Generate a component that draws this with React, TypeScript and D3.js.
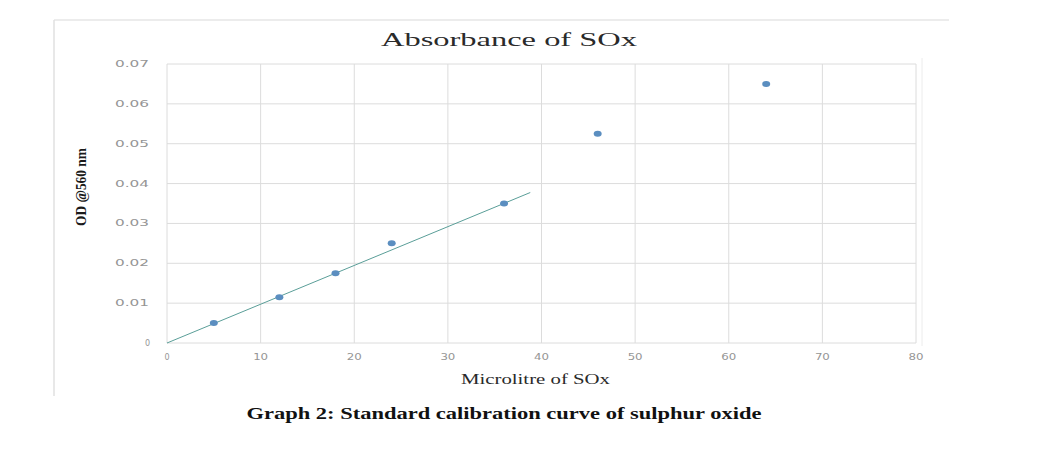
import React from "react";
import * as d3 from "d3";

const xVals = [5, 12, 18, 24, 36, 46, 64];
const yVals = [0.005, 0.0115, 0.0175, 0.025, 0.035, 0.0525, 0.065];
const xTicks = [0, 10, 20, 30, 40, 50, 60, 70, 80];
const yTicks = [0, 0.01, 0.02, 0.03, 0.04, 0.05, 0.06, 0.07];
const trendX = [0, 38.8];
const trendSlope = 0.000973;

const W = 1054;
const H = 452;

export default function App() {
  const x = d3.scaleLinear().domain([0, 80]).range([167, 916]);
  const y = d3.scaleLinear().domain([0, 0.07]).range([343, 64]);
  const line = d3
    .line<number>()
    .x((d) => x(d))
    .y((d) => y(d * trendSlope));
  const fmtY = (v: number) => (v === 0 ? "0" : v.toFixed(2));
  return (
    <svg
      width={W}
      height={H}
      style={{ position: "absolute", left: 0, top: 0, background: "#fff" }}
    >
      {/* outer chart frame */}
      <line x1={54} x2={949} y1={20} y2={20} stroke="#e6e6e6" strokeWidth={1.5} />
      <line x1={54} x2={54} y1={20} y2={396} stroke="#e0e0e0" strokeWidth={1.5} />
      <line x1={922} x2={922} y1={58} y2={346} stroke="#ececec" strokeWidth={1} />
      {/* grid */}
      {yTicks.map((t) => (
        <line key={"gy" + t} x1={x(0)} x2={x(80)} y1={y(t)} y2={y(t)} stroke="#dcdcdc" strokeWidth={1} />
      ))}
      {xTicks.map((t) => (
        <line key={"gx" + t} x1={x(t)} x2={x(t)} y1={y(0.07)} y2={y(0)} stroke="#dcdcdc" strokeWidth={1} />
      ))}
      {/* tick labels */}
      {yTicks.map((t) => {
        const s = fmtY(t);
        return (
          <text
            key={"ly" + t}
            x={s.length > 1 ? 115 : 150}
            y={y(t) + 3}
            textAnchor={s.length > 1 ? "start" : "end"}
            fontFamily="DejaVu Sans, sans-serif"
            fontSize={8}
            fill="#959595"
            {...(s.length > 1 ? { textLength: 34, lengthAdjust: "spacingAndGlyphs" } : {})}
          >
            {s}
          </text>
        );
      })}
      {xTicks.map((t) => {
        const s = String(t);
        return (
          <text
            key={"lx" + t}
            x={s.length > 1 ? x(t) - 7.5 : x(t)}
            y={360}
            textAnchor={s.length > 1 ? "start" : "middle"}
            fontFamily="DejaVu Sans, sans-serif"
            fontSize={8}
            fill="#959595"
            {...(s.length > 1 ? { textLength: 15, lengthAdjust: "spacingAndGlyphs" } : {})}
          >
            {s}
          </text>
        );
      })}
      {/* trendline */}
      <path d={line(trendX) || ""} fill="none" stroke="#5a9e98" strokeWidth={1} />
      {/* points */}
      {xVals.map((v, i) => (
        <ellipse key={"p" + i} cx={x(v)} cy={y(yVals[i])} rx={4} ry={3} fill="#5b8ec0" />
      ))}
      {/* titles */}
      <text
        x={381}
        y={46}
        fontFamily="Liberation Serif, serif"
        fontSize={19}
        fill="#2a2a2a"
        textLength={256}
        lengthAdjust="spacingAndGlyphs"
      >
        Absorbance of SOx
      </text>
      <text
        x={461}
        y={384}
        fontFamily="Liberation Serif, serif"
        fontSize={15}
        fill="#2a2a2a"
        textLength={149}
        lengthAdjust="spacingAndGlyphs"
      >
        Microlitre of SOx
      </text>
      <text
        transform="translate(86,226) rotate(-90)"
        fontFamily="Liberation Serif, serif"
        fontSize={14}
        fontWeight="bold"
        fill="#1a1a1a"
        textLength={78}
        lengthAdjust="spacingAndGlyphs"
      >
        OD @560 nm
      </text>
      <text
        x={504}
        y={419}
        textAnchor="middle"
        fontFamily="Liberation Serif, serif"
        fontSize={17}
        fontWeight="bold"
        fill="#111"
        textLength={515}
        lengthAdjust="spacingAndGlyphs"
      >
        Graph 2: Standard calibration curve of sulphur oxide
      </text>
    </svg>
  );
}
